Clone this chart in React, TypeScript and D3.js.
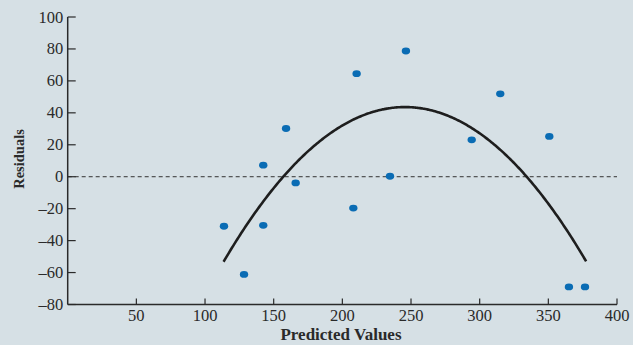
import React from "react";
import * as d3 from "d3";

// Residual plot data: predicted value vs. residual
const predicted = [113.8, 128.4, 142.4, 142.4, 159.0, 166.0, 208.0, 210.4, 234.7, 246.3, 294.2, 315.0, 350.7, 365.0, 376.7];
const residuals = [-31.0, -61.2, 7.2, -30.4, 30.2, -3.9, -19.6, 64.5, 0.3, 78.7, 23.1, 51.9, 25.2, -69.0, -69.0];

// Quadratic trend drawn over the residuals: vertex form y = k - a (x - h)^2
const trendVertexX = 245.6;
const trendVertexY = 43.6;
const trendCurvature = 0.00555;
const trendRange = [113.5, 377.5];

const xTicks = [50, 100, 150, 200, 250, 300, 350, 400];
const yTicks = [100, 80, 60, 40, 20, 0, -20, -40, -60, -80];

const W = 633;
const H = 345;

export default function App() {
  const x = d3.scaleLinear().domain([0, 400]).range([67.7, 617]);
  const y = d3.scaleLinear().domain([-80, 100]).range([304.5, 17]);

  const trendX = d3.range(trendRange[0], trendRange[1] + 0.01, 1);
  const trendLine = d3
    .line<number>()
    .x((v) => x(v))
    .y((v) => y(trendVertexY - trendCurvature * (v - trendVertexX) ** 2))
    .curve(d3.curveBasis)(trendX);

  const x0 = x(0);
  const y0 = y(-80);
  const font = "'Liberation Serif', 'DejaVu Serif', serif";
  const ink = "#2a2a2a";
  const fmt = (v: number) => (v < 0 ? "\u2013" + Math.abs(v) : String(v));

  return (
    <div style={{ position: "absolute", left: 0, top: 0 }}>
      <svg width={W} height={H} style={{ display: "block" }}>
        <rect width={W} height={H} fill="#d6e0e5" />

        {/* zero reference line */}
        <line
          x1={x0}
          x2={x(400)}
          y1={y(0)}
          y2={y(0)}
          stroke="#333"
          strokeWidth={1}
          strokeDasharray="4,3"
        />

        {/* axes */}
        <line x1={x0} x2={x0} y1={y(100)} y2={y0} stroke={ink} strokeWidth={1.5} />
        <line x1={x0} x2={x(400)} y1={y0} y2={y0} stroke={ink} strokeWidth={1.5} />

        {yTicks.map((t) => (
          <g key={"y" + t}>
            <line x1={x0} x2={x0 + 8} y1={y(t)} y2={y(t)} stroke={ink} strokeWidth={1.2} />
            <text
              x={x0 - 4.5}
              y={y(t) + 5.5}
              textAnchor="end"
              fontFamily={font}
              fontSize={16.5}
              fill={ink}
            >
              {fmt(t)}
            </text>
          </g>
        ))}

        {xTicks.map((t) => (
          <g key={"x" + t}>
            <line x1={x(t)} x2={x(t)} y1={y0} y2={y0 - 6} stroke={ink} strokeWidth={1.2} />
            <text
              x={x(t)}
              y={y0 + 16}
              textAnchor="middle"
              fontFamily={font}
              fontSize={16.5}
              fill={ink}
            >
              {t}
            </text>
          </g>
        ))}

        {/* trend curve */}
        <path d={trendLine ?? ""} fill="none" stroke="#1e1e1e" strokeWidth={2.6} />

        {/* residual points */}
        {predicted.map((p, i) => (
          <ellipse
            key={i}
            cx={x(p)}
            cy={y(residuals[i])}
            rx={4.2}
            ry={3.4}
            fill="#0a6cb4"
          />
        ))}

        <text
          x={341}
          y={340}
          textAnchor="middle"
          fontFamily={font}
          fontSize={17}
          fontWeight="bold"
          fill={ink}
        >
          Predicted Values
        </text>
        <text
          transform={`translate(24, 159) rotate(-90)`}
          textAnchor="middle"
          fontFamily={font}
          fontSize={14.5}
          fontWeight="bold"
          fill={ink}
        >
          Residuals
        </text>
      </svg>
    </div>
  );
}
